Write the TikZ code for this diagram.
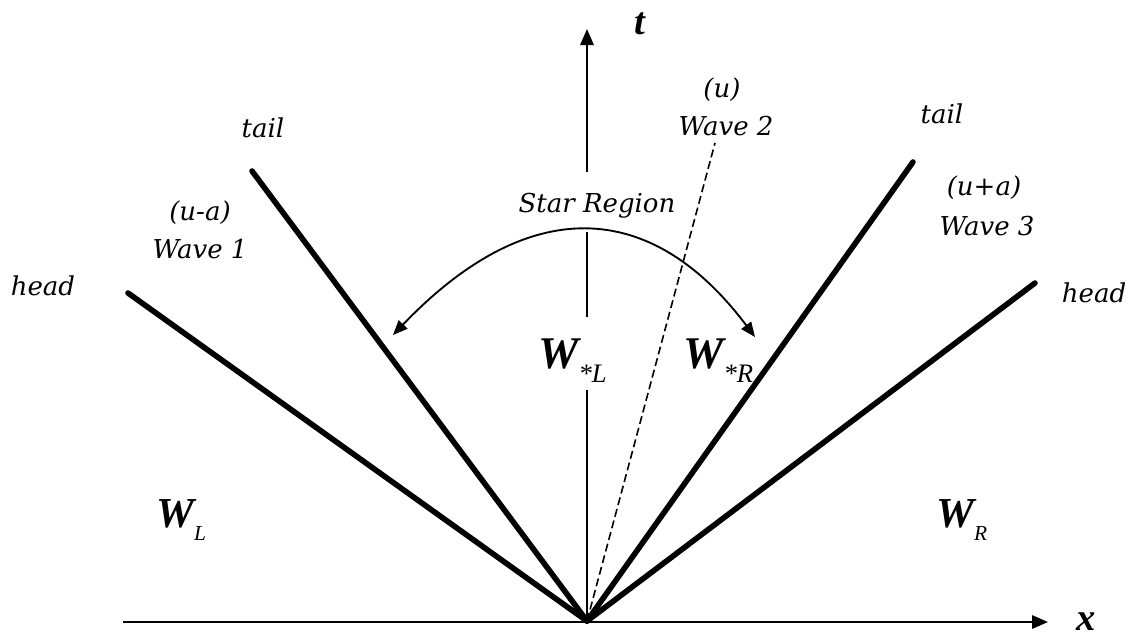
\documentclass[tikz,border=0pt]{standalone}
\usepackage{fontspec}
\setmainfont{DejaVu Serif}
\newfontfamily\tnr{Liberation Serif}
\usetikzlibrary{arrows.meta}
\begin{document}
\begin{tikzpicture}[x=0.75pt,y=-0.75pt,
  wave/.style={line width=4.2pt, line cap=round},
  axisline/.style={line width=1.5pt},
  axis/.style={line width=1.5pt, -{Triangle[length=12pt,width=10pt]}},
  arcline/.style={line width=1.4pt, {Triangle[length=11pt,width=9pt]}-{Triangle[length=11pt,width=9pt]}},
  dashline/.style={line width=1.2pt, dash pattern=on 6pt off 3pt},
  lbl/.style={font=\fontsize{19.5}{21}\selectfont\itshape, anchor=base, inner sep=0pt},
  axlbl/.style={font=\tnr\fontsize{29}{29}\selectfont\bfseries\itshape, anchor=base, inner sep=0pt},
  wbig/.style={font=\tnr\fontsize{34}{34}\selectfont\bfseries\itshape, anchor=base west, inner sep=0pt},
  wsmall/.style={font=\tnr\fontsize{32}{32}\selectfont\bfseries\itshape, anchor=base west, inner sep=0pt}
]
\path[use as bounding box] (0,0) rectangle (1128,637);

% key points
\coordinate (O) at (587,621);
\coordinate (hL) at (128,293);
\coordinate (tL) at (252,171);
\coordinate (tR) at (913,162);
\coordinate (hR) at (1035,283);
\coordinate (w2) at (715,143);

% axes
\coordinate (xS) at (123,622);
\coordinate (xE) at (1048,622);
\coordinate (tA) at (587,390);
\coordinate (tB) at (587,317);
\coordinate (tC) at (587,232);
\coordinate (tD) at (587,172);
\coordinate (tTip) at (587,29);
\draw[axis] (xS) -- (xE);
\draw[axisline] (O) -- (tA);
\draw[axisline] (tB) -- (tC);
\draw[axis] (tD) -- (tTip);

% waves
\draw[wave] (O) -- (hL);
\draw[wave] (O) -- (tL);
\draw[wave] (O) -- (tR);
\draw[wave] (O) -- (hR);
\draw[dashline] (O) -- (w2);

% star region arc
\coordinate (aL) at (393,335);
\coordinate (aR) at (755,337);
\coordinate (c1) at (527,195);
\coordinate (c2) at (650,197);
\draw[arcline] (aL) .. controls (c1) and (c2) .. (aR);

% labels
\node[axlbl] (tlab) at (640,34) {t};
\node[axlbl] (xlab) at (1086,630) {x};
\node[lbl] (tailL) at (263,137) {tail};
\node[lbl] (uma) at (200,220) {(u-a)};
\node[lbl] (wave1) at (200,258) {Wave 1};
\node[lbl] (headL) at (43,295) {head};
\node[lbl] (uu) at (722,97) {(u)};
\node[lbl] (wave2) at (726,135) {Wave 2};
\node[lbl] (star) at (597,212) {Star Region};
\node[lbl] (tailR) at (942,123) {tail};
\node[lbl] (upa) at (984,195) {(u+a)};
\node[lbl] (wave3) at (987,235) {Wave 3};
\node[lbl] (headR) at (1094,302) {head};

\node[wbig] (wsl) at (538,368) {W\raisebox{-10.5pt}{\fontsize{20}{20}\selectfont\mdseries *L}};
\node[wbig] (wsr) at (683,368) {W\raisebox{-10.5pt}{\fontsize{20}{20}\selectfont\mdseries *R}};
\node[wsmall] (wl) at (156,527) {W\raisebox{-9.75pt}{\fontsize{16}{16}\selectfont\mdseries L}};
\node[wsmall] (wr) at (936,527) {W\raisebox{-9.75pt}{\fontsize{16}{16}\selectfont\mdseries R}};
\end{tikzpicture}
\end{document}
